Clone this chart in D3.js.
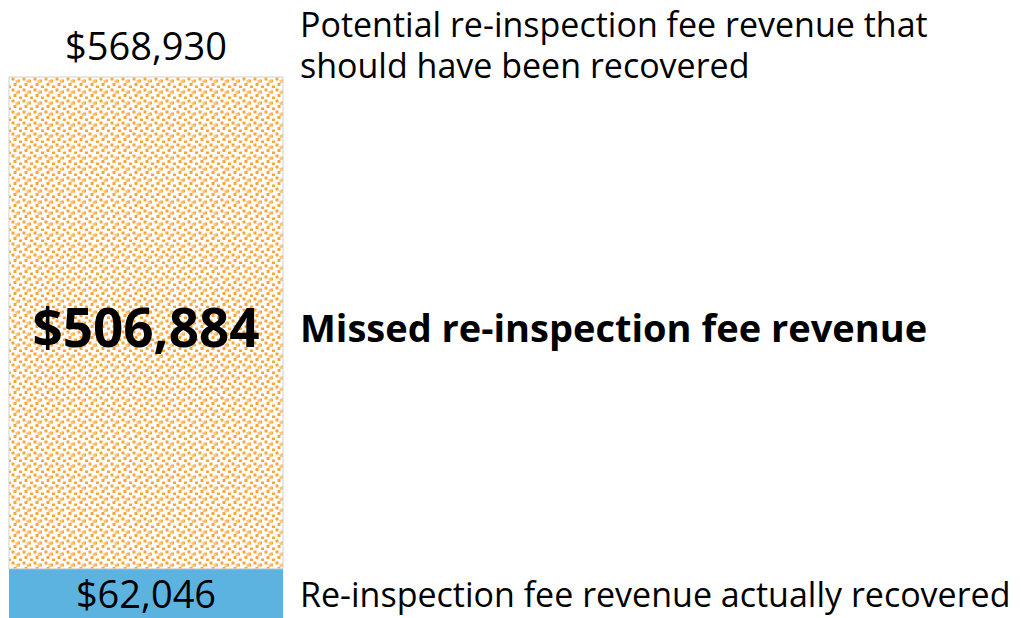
<!DOCTYPE html>
<html>
<head>
<meta charset="utf-8">
<script src="https://cdn.jsdelivr.net/npm/d3@7"></script>
<style>
  body { margin: 0; background: #fff; }
  svg { display: block; font-family: "Open Sans", sans-serif; }
</style>
</head>
<body>
<svg id="vis" width="1021" height="618"></svg>
<script>
// values
const segments = ['recovered', 'missed'];
const amounts = [62046, 506884];
const total = 568930;
const segmentLabels = ['Re-inspection fee revenue actually recovered', 'Missed re-inspection fee revenue'];
const totalLabel = ['Potential re-inspection fee revenue that', 'should have been recovered'];

const fmt = d3.format('$,');
const vis = d3.select('#vis');

const x = d3.scaleBand().domain(['bar']).range([9, 283]).padding(0);
// bar runs off the bottom of the picture a little
const y = d3.scaleLinear().domain([0, total]).range([629, 77]);

// orange speckle pattern
const defs = vis.append('defs');
const pat = defs.append('pattern')
  .attr('id', 'speckle')
  .attr('patternUnits', 'userSpaceOnUse')
  .attr('width', 11).attr('height', 11);
pat.append('rect').attr('width', 11).attr('height', 11).attr('fill', '#fff');
[[0.5, 0.5], [6, 2.5], [2.5, 6], [8, 8.5], [4.5, 3]].forEach((p, i) => {
  pat.append('rect')
    .attr('x', p[0]).attr('y', p[1])
    .attr('width', 3).attr('height', 3)
    .attr('fill', i === 4 ? '#fcc67f' : '#f9a53c');
});

const stack = [];
let acc = 0;
amounts.forEach((v, i) => {
  stack.push({key: segments[i], v0: acc, v1: acc + v, value: v, label: segmentLabels[i]});
  acc += v;
});

vis.append('g').selectAll('rect')
  .data(stack)
  .join('rect')
    .attr('x', x('bar'))
    .attr('width', x.bandwidth())
    .attr('y', d => y(d.v1))
    .attr('height', d => y(d.v0) - y(d.v1))
    .attr('fill', d => d.key === 'missed' ? 'url(#speckle)' : '#5db3e0')
    .attr('stroke', d => d.key === 'missed' ? '#d0d0d0' : 'none')
    .attr('stroke-width', 1);

const cx = x('bar') + x.bandwidth() / 2;
const midY = (y(stack[1].v0) + y(stack[1].v1)) / 2;

// values inside / above the bar
vis.append('text')
  .attr('x', cx).attr('y', y(total) - 17)
  .attr('text-anchor', 'middle')
  .attr('font-size', 38)
  .text(fmt(total));

vis.append('text')
  .attr('x', cx).attr('y', midY + 24)
  .attr('text-anchor', 'middle')
  .attr('font-size', 53).attr('font-weight', 'bold')
  .text(fmt(stack[1].value));

vis.append('text')
  .attr('x', cx).attr('y', 608)
  .attr('text-anchor', 'middle')
  .attr('font-size', 38)
  .text(fmt(stack[0].value));

// right hand descriptions
const lx = 300;
vis.append('text')
  .attr('x', lx).attr('y', 37)
  .attr('font-size', 34)
  .selectAll('tspan')
  .data(totalLabel)
  .join('tspan')
    .attr('x', lx)
    .attr('dy', (d, i) => i ? 41 : 0)
    .text(d => d);

vis.append('text')
  .attr('x', lx).attr('y', midY + 19)
  .attr('font-size', 38).attr('font-weight', 'bold')
  .text(stack[1].label);

vis.append('text')
  .attr('x', lx).attr('y', 607)
  .attr('font-size', 34)
  .text(stack[0].label);
</script>
</body>
</html>
